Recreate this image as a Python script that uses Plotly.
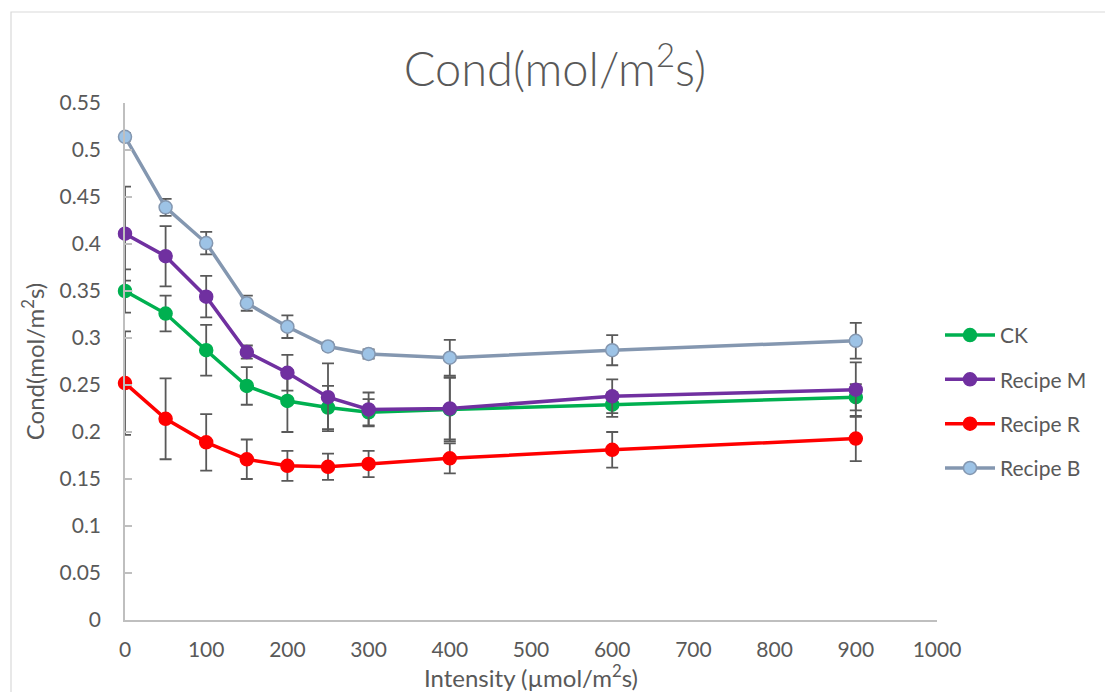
import plotly.graph_objects as go

intensity = [0, 50, 100, 150, 200, 250, 300, 400, 600, 900]

ck = [0.350, 0.326, 0.287, 0.249, 0.233, 0.226, 0.221, 0.224, 0.229, 0.237]
ck_err = [0.023, 0.019, 0.027, 0.020, 0.033, 0.023, 0.014, 0.034, 0.013, 0.014]

recipe_m = [0.411, 0.387, 0.344, 0.285, 0.263, 0.237, 0.224, 0.225, 0.238, 0.245]
recipe_m_err = [0.050, 0.032, 0.022, 0.007, 0.019, 0.036, 0.018, 0.033, 0.018, 0.029]

recipe_r = [0.252, 0.214, 0.189, 0.171, 0.164, 0.163, 0.166, 0.172, 0.181, 0.193]
recipe_r_err = [0.055, 0.043, 0.030, 0.021, 0.016, 0.014, 0.014, 0.016, 0.019, 0.024]

recipe_b = [0.514, 0.439, 0.401, 0.337, 0.312, 0.291, 0.283, 0.279, 0.287, 0.297]
recipe_b_err = [0.004, 0.009, 0.012, 0.008, 0.012, 0.004, 0.005, 0.019, 0.016, 0.019]

series = [
    ("CK", ck, ck_err, "#00b050", "#00b050", "#00b050"),
    ("Recipe M", recipe_m, recipe_m_err, "#7030a0", "#7030a0", "#7030a0"),
    ("Recipe R", recipe_r, recipe_r_err, "#ff0000", "#ff0000", "#ff0000"),
    ("Recipe B", recipe_b, recipe_b_err, "#8497b0", "#9dc3e6", "#8497b0"),
]

FONT = "Lato, 'Open Sans', sans-serif"
GRAY = "#595959"

fig = go.Figure()
for i, (name, vals, errs, lc, mfill, mline) in enumerate(series):
    fig.add_trace(go.Scatter(
        x=intensity, y=vals, name=name, mode="lines+markers",
        legendgroup=f"g{i}", cliponaxis=False,
        line=dict(color=lc, width=3.5),
        marker=dict(size=13, color=mfill, line=dict(color=mline, width=1.5)),
        error_y=dict(type="data", array=errs, visible=True,
                     color="#595959", thickness=1.8, width=6),
    ))

L, R, T, B = 125, 168, 103, 72
W, H = 1105, 692
pw = W - L - R
ph = H - T - B

fig.update_layout(
    width=W, height=H,
    margin=dict(l=L, r=R, t=T, b=B, autoexpand=False),
    paper_bgcolor="white", plot_bgcolor="white",
    font=dict(family=FONT, color=GRAY, size=21),
    title=dict(text="Cond(mol/m<sup>2</sup>s)", x=585 / W, xanchor="center",
               xref="paper", y=1 - 70 / H, yanchor="middle",
               font=dict(size=47, color=GRAY, family=FONT, weight=300)),
    xaxis=dict(range=[0, 1000], dtick=100, tick0=0, showgrid=False,
               zeroline=False, showline=True, linecolor="#bfbfbf",
               linewidth=1.5, ticks="", tickfont=dict(size=21, color=GRAY),
               ticklabelstandoff=10,
               title=dict(text="Intensity (µmol/m<sup>2</sup>s)",
                          font=dict(size=24, color=GRAY), standoff=14)),
    yaxis=dict(range=[0, 0.55], dtick=0.05, tick0=0, showgrid=False,
               zeroline=False, showline=True, linecolor="#bfbfbf",
               linewidth=1.5, ticks="inside", ticklen=7, tickcolor="#bfbfbf",
               tickwidth=1.5, tickfont=dict(size=21, color=GRAY),
               ticklabelstandoff=18,
               title=dict(text="Cond(mol/m<sup>2</sup>s)",
                          font=dict(size=24, color=GRAY), standoff=8)),
    legend=dict(x=(940 - L) / pw, xanchor="left", y=(620 - 333) / ph + 0.035,
                yanchor="top", traceorder="grouped", tracegroupgap=14,
                itemwidth=50, font=dict(size=21, color=GRAY),
                bgcolor="rgba(0,0,0,0)"),
    showlegend=True,
)

# chart-area border
fig.add_shape(type="rect", xref="paper", yref="paper",
              x0=(11 - L) / pw, x1=(1110 - L) / pw,
              y0=(620 - 700) / ph, y1=(620 - 12) / ph,
              line=dict(color="#d9d9d9", width=1.2), layer="below")

fig.write_html("out.html")
